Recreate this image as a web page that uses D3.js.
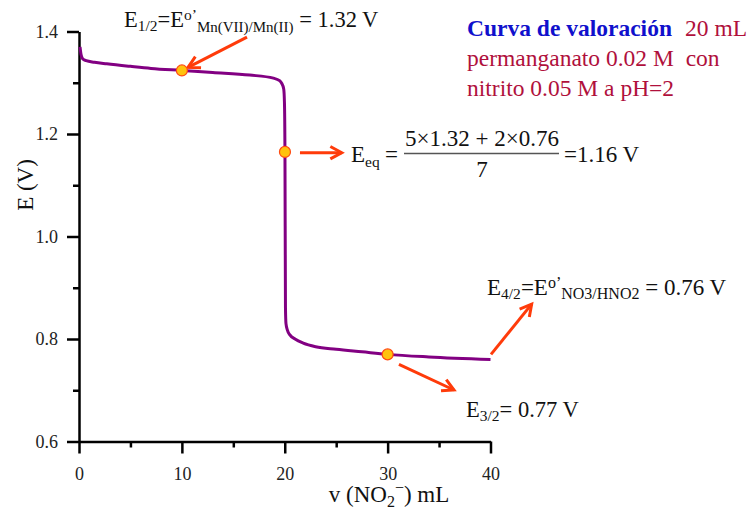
<!DOCTYPE html>
<html>
<head>
    <meta charset="utf-8">
    <script src="https://d3js.org/d3.v7.min.js"></script>
    <style>
        body { margin: 0; background: #fff; }
    </style>
</head>

<body></body>

<script>
    // titration curve: volume of nitrite (mL) vs potential (V)
    let vol = [0.1, 0.2, 0.35, 0.7, 1.5, 2.7, 5, 7, 10, 13, 16.6, 18.9, 19.5, 19.7, 19.9, 19.97,
               20.02, 20.07, 20.12, 20.25, 20.5, 21.0, 21.8, 23, 25, 27.5, 30, 34, 40];
    let pot = [1.370, 1.355, 1.347, 1.343, 1.340, 1.337, 1.332, 1.328, 1.324, 1.320, 1.315, 1.309, 1.304, 1.299, 1.288, 1.262,
               1.165, 0.860, 0.830, 0.818, 0.808, 0.800, 0.792, 0.785, 0.780, 0.775, 0.770, 0.765, 0.760];

    // marked points (E1/2, Eeq, E3/2)
    let markVol = [10, 20.02, 30];
    let markPot = [1.324, 1.165, 0.770];

    let xTicks = [0, 10, 20, 30, 40];
    let xMinor = [5, 15, 25, 35];
    let yTicks = [0.6, 0.8, 1.0, 1.2, 1.4];
    let yMinor = [0.7, 0.9, 1.1, 1.3];

    // arrows in data units [x1, y1, x2, y2], head at (x2, y2)
    let arrows = [
        [16.33, 1.389, 10.6, 1.330],
        [21.48, 1.1635, 25.54, 1.1635],
        [40.05, 0.770, 44.0, 0.868],
        [31.1, 0.7506, 36.45, 0.7005]
    ];

    let serif = "Liberation Serif";

    let W = 749, H = 512;
    let svg = d3.select("body").append("svg")
        .attr("width", W)
        .attr("height", H);

    let x = d3.scaleLinear().domain([0, 40]).range([79, 490.5]);
    let y = d3.scaleLinear().domain([0.6, 1.4]).range([441.5, 31.5]);

    // axes
    svg.append("g").attr("transform", "translate(0," + y(0.6) + ")")
        .call(d3.axisBottom(x).tickValues(xTicks).tickSize(12).tickSizeOuter(0).tickPadding(14).tickFormat(d3.format("d")));
    svg.append("g").attr("transform", "translate(0," + y(0.6) + ")")
        .call(d3.axisBottom(x).tickValues(xMinor).tickSize(6).tickFormat(""))
        .select(".domain").remove();

    svg.append("g").attr("transform", "translate(" + x(0) + ",0)")
        .call(d3.axisLeft(y).tickValues(yTicks).tickSize(12).tickSizeOuter(0).tickPadding(9).tickFormat(d3.format(".1f")));
    svg.append("g").attr("transform", "translate(" + x(0) + ",0)")
        .call(d3.axisLeft(y).tickValues(yMinor).tickSize(6).tickFormat(""))
        .select(".domain").remove();

    svg.selectAll(".domain").attr("stroke", "#000").attr("stroke-width", 2.5);
    svg.selectAll(".tick line").attr("stroke", "#000").attr("stroke-width", 2.5);
    svg.selectAll(".tick text").attr("font-size", 18).attr("fill", "#222")
        .attr("font-family", serif);

    // curve
    let line = d3.line()
        .x(function(d, i) { return x(vol[i]) })
        .y(function(d, i) { return y(pot[i]) })
        .curve(d3.curveMonotoneX);

    svg.append("path")
        .attr("d", line(vol))
        .attr("fill", "none")
        .attr("stroke", "#820082")
        .attr("stroke-width", 3);

    // arrows
    let arrowColor = "#FF3B0A";
    arrows.forEach(function(a) {
        let x1 = x(a[0]), y1 = y(a[1]), x2 = x(a[2]), y2 = y(a[3]);
        let ang = Math.atan2(y2 - y1, x2 - x1);
        let len = 13, spread = 0.5;
        let g = svg.append("g").attr("stroke", arrowColor).attr("stroke-width", 3)
            .attr("fill", "none").attr("stroke-linecap", "butt");
        g.append("line").attr("x1", x1).attr("y1", y1).attr("x2", x2).attr("y2", y2);
        g.append("path")
            .attr("d", "M" + (x2 - len * Math.cos(ang - spread)) + "," + (y2 - len * Math.sin(ang - spread)) +
                       "L" + x2 + "," + y2 +
                       "L" + (x2 - len * Math.cos(ang + spread)) + "," + (y2 - len * Math.sin(ang + spread)));
    });

    // markers
    svg.selectAll("circle.mark").data(markVol).enter()
        .append("circle")
        .attr("class", "mark")
        .attr("cx", function(d) { return x(d) })
        .attr("cy", function(d, i) { return y(markPot[i]) })
        .attr("r", 5.5)
        .attr("fill", "#FFC20E")
        .attr("stroke", "#FF4A12")
        .attr("stroke-width", 1.2);

    let txt = function(xp, yp, size) {
        return svg.append("text").attr("x", xp).attr("y", yp)
            .attr("font-family", serif).attr("font-size", size).attr("fill", "#111");
    };

    // axis titles
    svg.append("text")
        .attr("transform", "translate(33,185) rotate(-90)")
        .attr("text-anchor", "middle")
        .attr("font-family", serif)
        .attr("font-size", 23)
        .attr("fill", "#111")
        .text("E (V)");

    let xt = txt(389, 502, 23).attr("text-anchor", "middle");
    xt.append("tspan").text("v (NO");
    xt.append("tspan").attr("font-size", 16).attr("dy", 5).text("2");
    xt.append("tspan").attr("font-size", 16).attr("dy", -14).text("\u2212");
    xt.append("tspan").attr("dy", 9).text(") mL");

    // E1/2 label
    let t1 = txt(124, 27, 22.5);
    t1.append("tspan").text("E");
    t1.append("tspan").attr("font-size", 15.5).attr("dy", 4).text("1/2");
    t1.append("tspan").attr("dy", -4).text("=E");
    t1.append("tspan").attr("font-size", 15.5).attr("dy", -7).text("o\u2019");
    t1.append("tspan").attr("font-size", 15).attr("dy", 12).text("Mn(VII)/Mn(II)");
    t1.append("tspan").attr("dy", -5).text(" = 1.32 V");

    // Eeq label
    let t2 = txt(351, 162, 23);
    t2.append("tspan").text("E");
    t2.append("tspan").attr("font-size", 15.5).attr("dy", 5).text("eq");
    t2.append("tspan").attr("x", 385).attr("dy", -5).text("=");
    txt(482, 146, 23).attr("text-anchor", "middle").text("5\u00D71.32 + 2\u00D70.76");
    svg.append("line").attr("x1", 404).attr("x2", 559).attr("y1", 153.5).attr("y2", 153.5)
        .attr("stroke", "#555").attr("stroke-width", 1.3);
    txt(482, 177, 23).attr("text-anchor", "middle").text("7");
    txt(564, 162, 23).text("=1.16 V");

    // E4/2 label
    let t3 = txt(487, 295, 23);
    t3.append("tspan").text("E");
    t3.append("tspan").attr("font-size", 15.5).attr("dy", 4).text("4/2");
    t3.append("tspan").attr("dy", -4).text("=E");
    t3.append("tspan").attr("font-size", 16).attr("dy", -7).text("o\u2019");
    t3.append("tspan").attr("font-size", 16).attr("dy", 11).text("NO3/HNO2");
    t3.append("tspan").attr("dy", -4).text(" = 0.76 V");

    // E3/2 label
    let t4 = txt(466, 417, 22.5);
    t4.append("tspan").text("E");
    t4.append("tspan").attr("font-size", 15.5).attr("dy", 4).text("3/2");
    t4.append("tspan").attr("dy", -4).text("= 0.77 V");

    // title block
    let red = "#B0103C";
    let h1 = txt(467, 36, 23.5);
    h1.append("tspan").attr("fill", "#1010CC").attr("font-weight", "bold").text("Curva de valoraci\u00F3n");
    h1.append("tspan").attr("x", 685).attr("fill", red).text("20 mL");
    txt(467, 66, 23.5).attr("fill", red).style("white-space", "pre").text("permanganato 0.02 M  con");
    txt(467, 96, 23.5).attr("fill", red).text("nitrito 0.05 M a pH=2");
</script>
</html>
